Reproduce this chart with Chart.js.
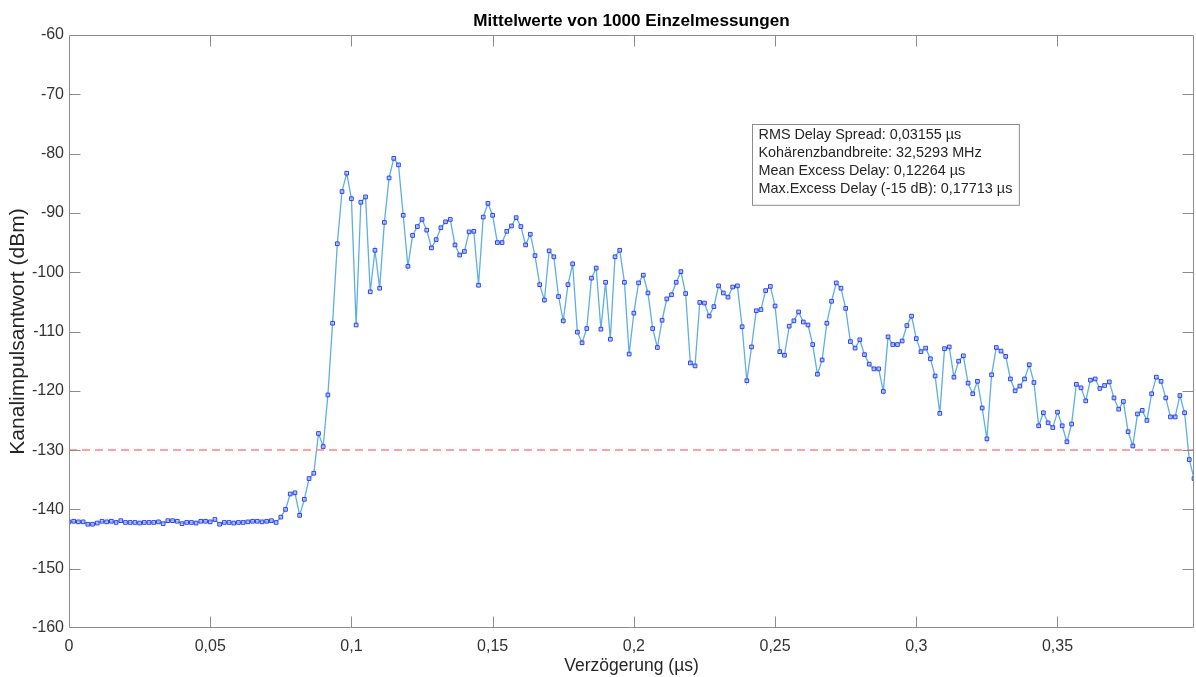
<!DOCTYPE html>
<html>
<head>
<meta charset="utf-8">
<script src="https://cdn.jsdelivr.net/npm/chart.js@4"></script>
<style>
html, body { margin: 0; padding: 0; background: #fff; }
#wrap { width: 1196px; height: 677px; }
</style>
</head>
<body>
<div id="wrap"><canvas id="myChart" width="1196" height="677"></canvas></div>
<script>
const ctx = document.querySelector('#myChart');
const fontFamily = "'Liberation Sans', Arial, Helvetica, sans-serif";

// sampling grid of the measurement (µs per sample)
const sampleStep = 1 / 600;

// mean channel impulse response, dBm, one value per sample
const levels = [
    -142.1, -142.0, -142.1, -142.1, -142.5, -142.5, -142.3, -142.0, -142.1, -142.0,
    -142.2, -141.9, -142.2, -142.2, -142.2, -142.3, -142.2, -142.2, -142.2, -142.1,
    -142.4, -141.9, -141.9, -142.0, -142.4, -142.2, -142.2, -142.3, -142.0, -142.0,
    -142.1, -141.7, -142.5, -142.2, -142.2, -142.3, -142.2, -142.2, -142.1, -142.0,
    -142.0, -142.1, -142.0, -141.9,
    -142.2, -141.3, -140.0, -137.4, -137.2, -141.0, -138.3, -134.8, -133.9, -127.2,
    -129.4, -120.7,
    -108.6, -95.2, -86.4, -83.3, -87.6, -108.9, -88.2, -87.3, -103.3, -96.3,
    -102.7, -91.6, -84.1, -80.8, -81.9, -90.4, -99.0, -93.8, -92.3, -91.1,
    -92.9, -95.9, -94.5, -92.5, -91.5, -91.1, -95.4, -97.1, -96.5, -93.2,
    -93.1, -102.2, -90.7, -88.4, -90.4, -95.0, -95.0, -93.1, -92.2, -90.8,
    -92.3, -95.4, -93.6, -97.2, -102.1, -104.7, -96.4,
    -97.4, -104.1, -108.2, -102.1, -98.6, -110.1, -111.9, -109.5, -101.0, -99.3,
    -109.6, -101.7, -111.3, -97.4, -96.3, -101.7, -113.8, -106.9, -101.8, -100.5,
    -103.5, -109.5, -112.7, -108.1, -104.5, -103.8, -101.7, -99.9, -103.6, -115.3,
    -115.8, -105.1, -105.2, -107.4, -105.8, -102.3, -103.5, -104.2, -102.5, -102.3,
    -109.2, -118.3, -112.6, -106.5, -106.3, -103.1, -102.4, -105.7, -113.4, -114.0,
    -109.1,
    -108.2, -106.7, -108.4, -108.9, -112.2, -117.2, -114.8, -108.6, -104.9, -101.8,
    -102.7, -106.1, -111.7, -112.8, -111.4, -113.9, -115.5, -116.3, -116.3, -120.1,
    -110.9, -112.2, -112.2, -111.6, -109.0, -107.4, -111.2, -113.4, -112.8, -114.6,
    -117.5, -123.8, -112.9, -112.6, -117.7, -115.0, -114.1, -118.7, -120.5, -118.4,
    -122.9,
    -128.1, -117.3, -112.7, -113.3, -114.2, -118.0, -120.0, -119.2, -118.0, -115.6,
    -118.6, -125.9, -123.7, -125.4, -126.2, -123.6, -125.9, -128.6, -125.6, -118.9,
    -119.5, -121.7, -118.2, -118.0, -119.6, -119.1, -118.5, -121.2, -123.1, -121.8,
    -126.9, -129.3, -123.9, -123.3, -125.0, -120.5, -117.7, -118.4, -121.2, -124.4,
    -124.4, -120.8, -123.7, -131.6, -134.8
];

// -15 dB threshold line
const threshold = -130;

const xTicks = [0, 0.05, 0.1, 0.15, 0.2, 0.25, 0.3, 0.35];
const yTicks = [-160, -150, -140, -130, -120, -110, -100, -90, -80, -70, -60];

const infoLines = [
    'RMS Delay Spread: 0,03155 µs',
    'Kohärenzbandbreite: 32,5293 MHz',
    'Mean Excess Delay: 0,12264 µs',
    'Max.Excess Delay (-15 dB): 0,17713 µs'
];

const points = levels.map((v, i) => ({ x: i * sampleStep, y: v }));
const xMax = (levels.length - 1) * sampleStep;

const comma = v => String(Math.round(v * 1000) / 1000).replace('.', ',');

// box round the axes with inward tick marks on all four sides
const frame = {
    id: 'frame',
    afterDatasetsDraw(chart) {
        const { ctx, chartArea: a, scales: { x, y } } = chart;
        const L = Math.round(a.left) + 0.5, R = Math.round(a.right) - 0.5;
        const T = Math.round(a.top) + 0.5, B = Math.round(a.bottom) - 0.5;
        const len = 11;
        ctx.save();
        ctx.strokeStyle = '#8c8c8c';
        ctx.lineWidth = 1;
        ctx.beginPath();
        ctx.rect(L, T, R - L, B - T);
        xTicks.forEach(v => {
            const px = Math.round(x.getPixelForValue(v)) + 0.5;
            if (px <= L + 1 || px >= R - 1) return;
            ctx.moveTo(px, B); ctx.lineTo(px, B - len);
            ctx.moveTo(px, T); ctx.lineTo(px, T + len);
        });
        yTicks.forEach(v => {
            const py = Math.round(y.getPixelForValue(v)) + 0.5;
            if (py <= T + 1 || py >= B - 1) return;
            ctx.moveTo(L, py); ctx.lineTo(L + len, py);
            ctx.moveTo(R, py); ctx.lineTo(R - len, py);
        });
        ctx.stroke();
        ctx.restore();
    }
};

// text box with the delay figures
const infoBox = {
    id: 'infoBox',
    afterDraw(chart) {
        const { ctx, chartArea: a } = chart;
        ctx.save();
        ctx.font = '14.4px ' + fontFamily;
        const w = Math.max(...infoLines.map(s => ctx.measureText(s).width)) + 13;
        const lineH = 17.7;
        const h = infoLines.length * lineH + 10;
        const left = Math.round(a.left + 683) + 0.5;
        const top = Math.round(a.top + 89) + 0.5;
        ctx.fillStyle = '#fff';
        ctx.fillRect(left, top, w, h);
        ctx.strokeStyle = '#8c8c8c';
        ctx.lineWidth = 1;
        ctx.strokeRect(left, top, w, h);
        ctx.fillStyle = '#262626';
        ctx.textBaseline = 'middle';
        infoLines.forEach((s, i) => {
            ctx.fillText(s, left + 6, top + 11 + i * lineH);
        });
        ctx.restore();
    }
};

const datasets = [
    {
        data: points,
        borderColor: 'rgb(95,175,225)',
        borderWidth: 1.3,
        pointStyle: 'rect',
        pointRadius: 2.6,
        pointBorderWidth: 1,
        pointBorderColor: 'rgb(45,65,245)',
        pointBackgroundColor: 'rgba(175,190,255,0.6)',
        tension: 0,
        order: 1
    },
    {
        data: [{ x: 0, y: threshold }, { x: xMax, y: threshold }],
        borderColor: 'rgb(255,130,130)',
        borderWidth: 1.5,
        borderDash: [8, 5],
        pointRadius: 0,
        order: 0
    }
];

new Chart(ctx, {
    type: 'line',
    data: { datasets },
    options: {
        responsive: false,
        animation: false,
        layout: { autoPadding: false, padding: { left: 0, right: 2, top: 0, bottom: 0 } },
        plugins: {
            legend: { display: false },
            tooltip: { enabled: false },
            title: {
                display: true,
                fullSize: false,
                text: 'Mittelwerte von 1000 Einzelmessungen',
                color: '#000',
                font: { family: fontFamily, size: 17.1, weight: 'bold' },
                padding: { top: 11, bottom: 3.5 }
            }
        },
        scales: {
            x: {
                type: 'linear',
                min: 0,
                max: xMax,
                grid: { display: false, drawTicks: false },
                border: { display: false },
                afterBuildTicks: s => { s.ticks = xTicks.map(v => ({ value: v })); },
                afterFit: s => { s.height = 49; },
                ticks: {
                    callback: comma,
                    color: '#333',
                    padding: 9,
                    maxRotation: 0,
                    autoSkip: false,
                    font: { family: fontFamily, size: 16 }
                },
                title: {
                    display: true,
                    text: 'Verzögerung (µs)',
                    color: '#262626',
                    padding: { top: 1, bottom: 0 },
                    font: { family: fontFamily, size: 17.5 }
                }
            },
            y: {
                min: -160,
                max: -60,
                grid: { display: false, drawTicks: false },
                border: { display: false },
                afterBuildTicks: s => { s.ticks = yTicks.map(v => ({ value: v })); },
                afterFit: s => { s.width = 69; },
                ticks: {
                    color: '#333',
                    padding: 5,
                    autoSkip: false,
                    font: { family: fontFamily, size: 16 }
                },
                title: {
                    display: true,
                    text: 'Kanalimpulsantwort (dBm)',
                    color: '#262626',
                    padding: { top: 5.5, bottom: 0 },
                    font: { family: fontFamily, size: 21 }
                }
            }
        }
    },
    plugins: [frame, infoBox]
});
</script>
</body>
</html>
